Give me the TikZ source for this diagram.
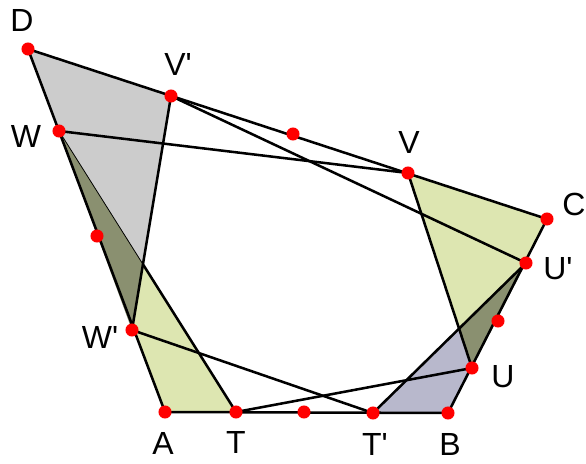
\documentclass[tikz,border=0pt]{standalone}
\usepackage{fontspec}
\setmainfont{Liberation Sans}[Ligatures=TeXOff]
\begin{document}
\begin{tikzpicture}[x=0.75pt,y=-0.75pt,
  edge/.style={line width=1.9pt,line join=round,line cap=round},
  thinedge/.style={line width=0.6pt},
  dot/.style={circle,fill=red,inner sep=0pt,minimum size=9.8pt},
  lab/.style={font=\fontsize{24}{26}\selectfont,inner sep=0pt}]
\definecolor{grayfill}{RGB}{204,204,204}
\definecolor{greenfill}{RGB}{221,230,177}
\definecolor{olivefill}{RGB}{138,144,112}
\definecolor{bluefill}{RGB}{184,184,204}
\useasboundingbox (0,0) rectangle (586,464);
\coordinate (D) at (28,49);
\coordinate (Vp) at (171,96);
\coordinate (W) at (59,131);
\coordinate (M1) at (293,134);
\coordinate (V) at (408,173);
\coordinate (C) at (547,219);
\coordinate (Up) at (526,263);
\coordinate (M2) at (498,321);
\coordinate (U) at (472,368);
\coordinate (B) at (448,413);
\coordinate (Tp) at (373,413);
\coordinate (M3) at (304,412);
\coordinate (T) at (236,412);
\coordinate (A) at (165,412);
\coordinate (Wp) at (132,330);
\coordinate (M4) at (97,236);
\coordinate (X) at (intersection of Vp--Wp and W--T);
\coordinate (Y) at (intersection of V--U and Tp--Up);
% fills
\fill[grayfill] (D) -- (Vp) -- (Wp) -- cycle;
\fill[greenfill] (W) -- (A) -- (T) -- cycle;
\fill[olivefill] (W) -- (X) -- (Wp) -- cycle;
\fill[greenfill] (V) -- (C) -- (U) -- cycle;
\fill[bluefill] (Tp) -- (B) -- (Up) -- cycle;
\fill[olivefill] (Up) -- (U) -- (Y) -- cycle;
% lines
\draw[edge] (D) -- (C) -- (B) -- (A) -- cycle;
\draw[edge] (Vp) -- (Wp);
\draw[edge] (W) -- (V);
\draw[edge] (Vp) -- (Up);
\draw[edge] (Wp) -- (Tp);
\draw[edge] (T) -- (U);
\draw[edge] (V) -- (U);
\draw[edge] (Tp) -- (Up);
\draw[thinedge] (W) -- (X);
\draw[edge] (X) -- (T);
% dots
\foreach \p in {D,Vp,W,M1,V,C,Up,M2,U,B,Tp,M3,T,A,Wp,M4}
  \node[dot] (d\p) at (\p) {};
% labels
\node[lab] (lD) at (22,20) {D};
\node[lab] (lVp) at (178,64) {V'};
\node[lab] (lW) at (26,136) {W};
\node[lab] (lV) at (409,142) {V};
\node[lab] (lC) at (574,204) {C};
\node[lab] (lUp) at (558,269) {U'};
\node[lab] (lU) at (503,377) {U};
\node[lab] (lB) at (450,444) {B};
\node[lab] (lTp) at (375,444) {T'};
\node[lab] (lT) at (236,442) {T};
\node[lab] (lA) at (163,443) {A};
\node[lab] (lWp) at (100,337) {W'};
\end{tikzpicture}
\end{document}
